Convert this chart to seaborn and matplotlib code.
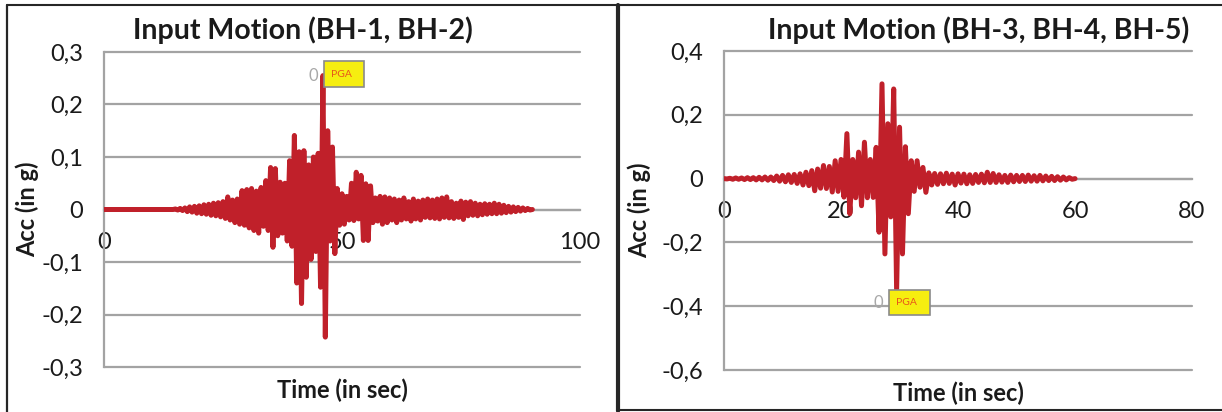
import numpy as np
import matplotlib
matplotlib.use('Agg')
import matplotlib.pyplot as plt
from matplotlib.lines import Line2D
from matplotlib.patches import Rectangle
import seaborn as sns

# sampling step of both records (s)
dt = 0.5

# Input motion BH-1, BH-2 : 0 .. 90 s
acc_bh12 = [
    0, 0, 0, 0, 0, 0, 0, 0, 0, 0,
    0, 0, 0, 0, 0, 0, 0, 0, 0, 0,
    0, 0, 0, 0, 0, 0, 0, 0, 0, 0,
    0.001, -0.001, 0.002, -0.002, 0.003, -0.004, 0.005, -0.005, 0.006, -0.007,
    0.007, -0.008, 0.009, -0.009, 0.010, -0.011, 0.012, -0.012, 0.013, -0.014,
    0.015, -0.017, 0.024, -0.020, 0.018, -0.025, 0.020, -0.028, 0.036, -0.030,
    0.038, -0.035, 0.040, -0.040, 0.035, -0.045, 0.042, -0.032, 0.055, -0.040,
    0.080, -0.072, 0.078, -0.050, 0.052, -0.045, 0.050, -0.060, 0.093, -0.070,
    0.141, -0.140, 0.110, -0.179, 0.112, -0.129, 0.085, -0.095, 0.100, -0.080,
    0.107, -0.148, 0.255, -0.243, 0.150, -0.060, 0.119, -0.084, 0.040, -0.030,
    0.030, -0.028, 0.025, -0.020, 0.050, -0.021, 0.071, -0.018, 0.065, -0.059,
    0.049, -0.059, 0.045, -0.025, 0.022, -0.022, 0.025, -0.028, 0.024, -0.025,
    0.022, -0.020, 0.020, -0.025, 0.018, -0.020, 0.022, -0.018, 0.015, -0.022,
    0.020, -0.018, 0.016, -0.020, 0.018, -0.015, 0.020, -0.016, 0.018, -0.017,
    0.020, -0.018, 0.022, -0.015, 0.024, -0.016, 0.015, -0.017, 0.012, -0.015,
    0.016, -0.019, 0.014, -0.012, 0.015, -0.011, 0.012, -0.012, 0.010, -0.010,
    0.011, -0.009, 0.010, -0.008, 0.012, -0.008, 0.010, -0.007, 0.008, -0.006,
    0.006, -0.005, 0.005, -0.004, 0.004, -0.003, 0.003, -0.002, 0.002, -0.001,
    0.0,
]

# Input motion BH-3, BH-4, BH-5 : 0 .. 60 s
acc_bh345 = [
    0.000, -0.001, 0.001, -0.002, 0.002, -0.002, 0.002, -0.003, 0.003, -0.003,
    0.003, -0.004, 0.004, -0.004, 0.005, -0.005, 0.005, -0.006, 0.008, -0.008,
    0.010, -0.010, 0.012, -0.012, 0.013, -0.015, 0.015, -0.020, 0.020, -0.022,
    0.025, -0.038, 0.030, -0.030, 0.041, -0.031, 0.038, -0.042, 0.056, -0.040,
    0.060, -0.058, 0.141, -0.110, 0.060, -0.060, 0.083, -0.085, 0.114, -0.060,
    0.060, -0.059, 0.098, -0.168, 0.297, -0.236, 0.172, -0.120, 0.281, -0.350,
    0.161, -0.236, 0.100, -0.110, 0.056, -0.040, 0.056, -0.027, 0.035, -0.043,
    0.018, -0.020, 0.016, -0.018, 0.015, -0.016, 0.017, -0.015, 0.014, -0.020,
    0.015, -0.014, 0.014, -0.016, 0.012, -0.015, 0.013, -0.012, 0.014, -0.013,
    0.020, -0.012, 0.016, -0.012, 0.012, -0.011, 0.010, -0.012, 0.011, -0.010,
    0.010, -0.009, 0.010, -0.009, 0.011, -0.008, 0.009, -0.008, 0.010, -0.007,
    0.008, -0.006, 0.007, -0.006, 0.006, -0.005, 0.005, -0.004, 0.003, -0.002,
    0.0,
]

titles = ['Input Motion (BH-1, BH-2)', 'Input Motion (BH-3, BH-4, BH-5)']
xticks_bh12 = [0, 50, 100]
xticks_bh345 = [0, 20, 40, 60, 80]
yticks_bh12 = [-0.3, -0.2, -0.1, 0, 0.1, 0.2, 0.3]
ylabels_bh12 = ['-0,3', '-0,2', '-0,1', '0', '0,1', '0,2', '0,3']
yticks_bh345 = [-0.6, -0.4, -0.2, 0, 0.2, 0.4]
ylabels_bh345 = ['-0,6', '-0,4', '-0,2', '0', '0,2', '0,4']

# PGA label: marker point and box (time, acc)
pga_mark = [(44.0, 0.255), (26.3, -0.39)]
pga_box = [(46.2, 0.234, 8.4, 0.048), (28.2, -0.429, 7.0, 0.081)]

sns.set_style('white')
plt.rcParams['font.family'] = ['Lato', 'DejaVu Sans']

red = '#C0202A'
grey = '#A3A3A3'
ink = '#1a1a1a'

fig = plt.figure(figsize=(12.22, 4.12), dpi=100)
ax1 = fig.add_axes([0.0851, 0.1092, 0.3895, 0.7646])
ax2 = fig.add_axes([0.5925, 0.1019, 0.3830, 0.7743])

panels = [
    (ax1, acc_bh12, xticks_bh12, yticks_bh12, ylabels_bh12, -0.137),
    (ax2, acc_bh345, xticks_bh345, yticks_bh345, ylabels_bh345, -0.156),
]

for k, (ax, acc, xt, yt, yl, ylab_x) in enumerate(panels):
    t = np.arange(len(acc)) * dt
    sns.lineplot(x=t, y=acc, ax=ax, color=red, lw=3.6, estimator=None,
                 sort=False, zorder=3)
    ax.set_xlim(xt[0], xt[-1])
    ax.set_ylim(yt[0], yt[-1])
    ax.set_xticks(xt)
    ax.set_yticks(yt)
    ax.set_yticklabels(yl)
    ax.grid(axis='y', color=grey, lw=1.6)
    for gl in ax.get_ygridlines():
        gl.set_clip_on(False)
    for s in ['top', 'right']:
        ax.spines[s].set_visible(False)
    ax.spines['bottom'].set_position(('data', 0))
    for s in ['left', 'bottom']:
        ax.spines[s].set_color(grey)
        ax.spines[s].set_linewidth(1.6)
        ax.spines[s].set_zorder(1)
    ax.tick_params(axis='both', direction='out', length=5, width=1.6,
                   color=grey, labelsize=17, labelcolor=ink)
    ax.tick_params(axis='x', pad=11)
    ax.tick_params(axis='y', pad=10)
    ax.set_xlabel('Time (in sec)', fontsize=17, fontweight='bold', color=ink)
    ax.set_ylabel('Acc (in g)', fontsize=17, fontweight='bold', color=ink)
    ax.xaxis.set_label_coords(0.5, -0.035)
    ax.yaxis.set_label_coords(ylab_x, 0.5)

    mx, my = pga_mark[k]
    ax.text(mx, my, '0', color='#a8a8a8', fontsize=12, ha='center', va='center',
            zorder=5)
    bx, by, bw, bh = pga_box[k]
    ax.add_patch(Rectangle((bx, by), bw, bh, facecolor='#F6EE10',
                           edgecolor='#8a8a8a', lw=1.2, zorder=4, clip_on=False))
    ax.text(bx + bw * 0.17, by + bh / 2, 'PGA', color='#E8561A', fontsize=7.5,
            ha='left', va='center', zorder=5)

fig.text(0.248, 0.927, titles[0], fontsize=20.5, fontweight='bold',
         ha='center', va='center', color=ink)
fig.text(0.801, 0.927, titles[1], fontsize=20.5, fontweight='bold',
         ha='center', va='center', color=ink)

# panel frames
edge = '#262626'
fig.add_artist(Line2D([7 / 1222, 1], [1 - 5 / 412] * 2, color=edge, lw=1.5,
                      transform=fig.transFigure))
fig.add_artist(Line2D([7 / 1222] * 2, [0, 1 - 5 / 412], color=edge, lw=1.6,
                      transform=fig.transFigure))
fig.add_artist(Line2D([618 / 1222] * 2, [1 / 412, 1 - 5 / 412], color=edge, lw=3,
                      transform=fig.transFigure))
fig.add_artist(Line2D([618 / 1222, 1], [2 / 412] * 2, color=edge, lw=1.5,
                      transform=fig.transFigure))

fig.savefig('out.png', dpi=100)
